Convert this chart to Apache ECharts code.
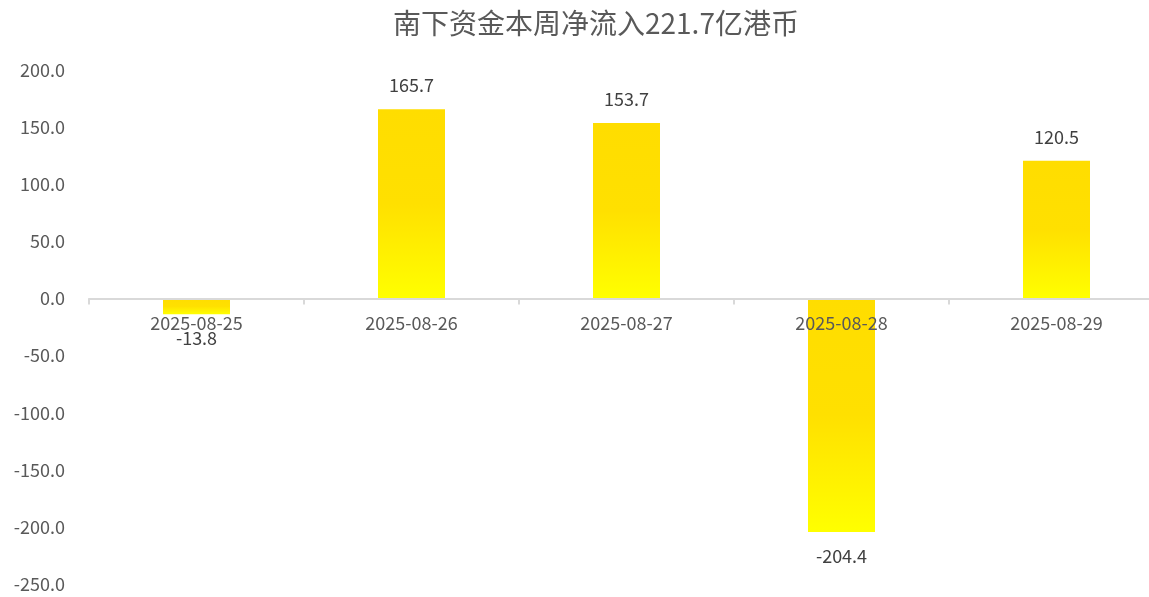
<!DOCTYPE html>
<html>
<head>
<meta charset="utf-8">
<script src="https://cdn.jsdelivr.net/npm/echarts@6/dist/echarts.min.js"></script>
<style>html,body{margin:0;padding:0;background:#fff;}#c{width:1149px;height:597px;}</style>
</head>
<body>
<div id="c"></div>
<script>
const titleText = '南下资金本周净流入221.7亿港币';
const categories = ['2025-08-25', '2025-08-26', '2025-08-27', '2025-08-28', '2025-08-29'];
const flows = [-13.8, 165.7, 153.7, -204.4, 120.5];
const yMin = -250, yMax = 200, yStep = 50;

const chart = echarts.init(document.getElementById('c'));
const font = '"Microsoft YaHei", "Noto Sans CJK SC", "Noto Sans", sans-serif';
const gridBottom = 13;
chart.setOption({
  backgroundColor: '#fff',
  animation: false,
  title: {
    text: titleText,
    left: 388,
    top: 4,
    textStyle: { fontFamily: font, fontSize: 28, fontWeight: 'normal', color: '#595959' }
  },
  grid: { left: 89, right: -15, top: 70, bottom: gridBottom, containLabel: false, outerBoundsMode: 'none' },
  xAxis: {
    type: 'category',
    data: categories,
    offset: 0,
    axisLine: { onZero: false, lineStyle: { color: '#d9d9d9', width: 2 } },
    axisTick: { show: true, length: 6, lineStyle: { color: '#d9d9d9', width: 2 } },
    axisLabel: { fontFamily: font, fontSize: 18, color: '#595959', margin: 16 },
    z: 5
  },
  yAxis: {
    type: 'value',
    min: yMin, max: yMax, interval: yStep,
    axisLine: { show: false },
    axisTick: { show: false },
    splitLine: { show: false },
    axisLabel: {
      fontFamily: font, fontSize: 18, color: '#595959', margin: 24,
      formatter: v => v.toFixed(1)
    }
  },
  series: [{
    type: 'bar',
    data: flows.map(v => v < 0 ? { value: v, label: { position: 'bottom' } } : v),
    barWidth: 67,
    z: 2,
    itemStyle: {
      color: new echarts.graphic.LinearGradient(0, 0, 0, 1, [
        { offset: 0, color: '#FFDD00' },
        { offset: 0.5, color: '#FFE000' },
        { offset: 1, color: '#FFFF00' }
      ])
    },
    label: {
      show: true,
      position: 'top',
      distance: 15,
      fontFamily: font, fontSize: 18, color: '#404040',
      formatter: p => p.value.toFixed(1)
    }
  }]
});
// move the category axis (line, ticks, labels) up to the zero line
const zeroY = chart.convertToPixel({ yAxisIndex: 0 }, 0);
const bottomY = chart.getHeight() - gridBottom;
chart.setOption({ xAxis: { offset: -(bottomY - zeroY) } });
</script>
</body>
</html>
